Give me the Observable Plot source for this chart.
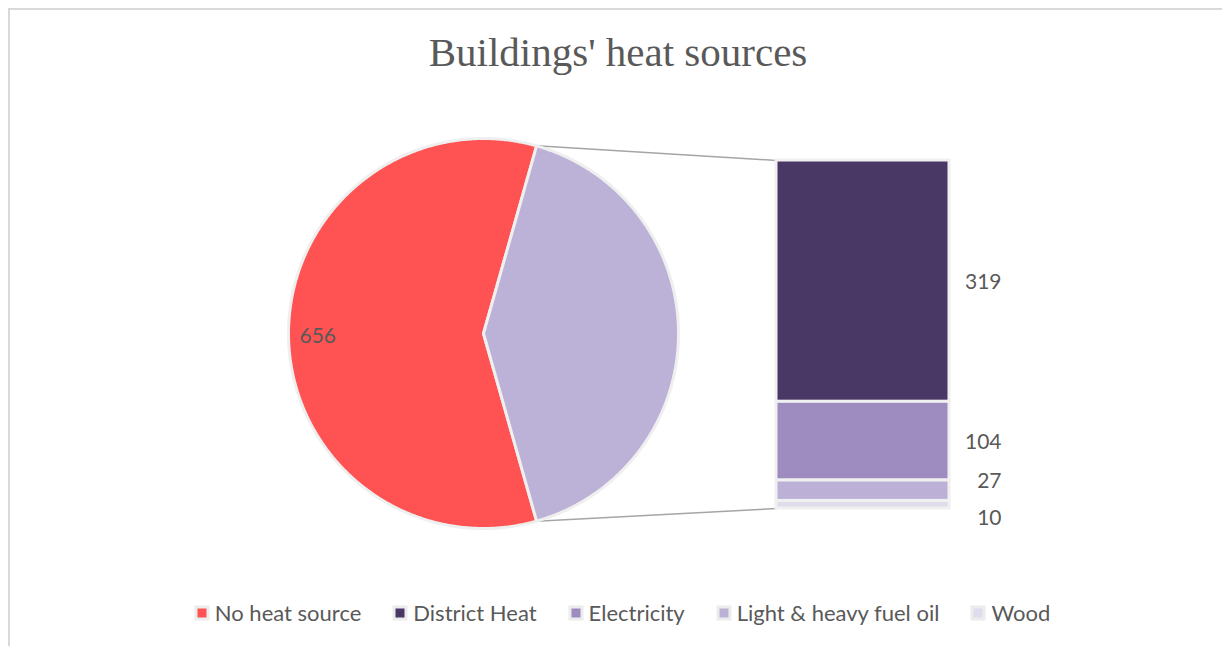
<!DOCTYPE html>
<html>
<head>
<meta charset="utf-8">
<script src="https://cdn.jsdelivr.net/npm/d3@7"></script>
<script src="https://cdn.jsdelivr.net/npm/@observablehq/plot@0.6"></script>
<style>
  body { margin: 0; background: #fff; font-family: Lato, sans-serif; }
  #frame { position: absolute; left: 8px; top: 8px; width: 1240px; height: 660px;
           border-top: 2px solid #D9D9D9; border-left: 2px solid #D9D9D9; }
  #title { position: absolute; left: 8px; width: 1220px; top: 32px; line-height: 41px;
           text-align: center; font-family: "Liberation Serif", serif; font-size: 41px; color: #595959; }
  #chart { position: absolute; left: 0; top: 90px; }
  #legend { position: absolute; left: 13px; width: 1220px; top: 596px; display: flex; justify-content: center; }
  #legend .lg-swatch { margin-right: 33px !important; }
  #legend .lg-swatch:last-child { margin-right: 0 !important; }
  #legend .lg-swatch svg { margin-right: 7px !important; }
  #legend .lg-swatch rect { stroke: #ECECEC; stroke-width: 3px; }
</style>
</head>
<body>
<div id="frame"></div>
<div id="title">Buildings' heat sources</div>
<div id="chart"></div>
<div id="legend"></div>
<script>
// Heat source of each building: first category is the pie's main slice,
// the rest are split out into the stacked bar on the right.
const categories = ["No heat source", "District Heat", "Electricity", "Light & heavy fuel oil", "Wood"];
const values = [656, 319, 104, 27, 10];
const colors = ["#FF5252", "#493865", "#9E8BC0", "#BCB0D7", "#E1DCEC"];
const otherColor = "#BCB1D6";

const mainSlice = {name: categories[0], value: values[0]};
const secondary = categories.slice(1).map((name, i) => ({name, value: values[i + 1]}));
const otherTotal = d3.sum(secondary, d => d.value);
const total = mainSlice.value + otherTotal;

// Layout (pixels inside the SVG)
const W = 1222, H = 470;
const barTopPx = 70, barBottomPx = 418, barLeftPx = 776, barRightPx = 949;
const pieCxPx = 483, pieCyPx = 243, pieRPx = 195;
const labelRightPx = 1001;

// One unit of value = k pixels on both axes, so the pie stays round
const k = (barBottomPx - barTopPx) / otherTotal;
const u = px => px / k;
const cx = u(pieCxPx), cy = u(barBottomPx - pieCyPx), R = u(pieRPx);

// Pie angles (clockwise from 12 o'clock); the split-out slice faces the bar
const otherSpan = otherTotal / total * 2 * Math.PI;
const a0 = Math.PI / 2 - otherSpan / 2;
const a1 = a0 + otherSpan;
const a2 = a0 + 2 * Math.PI;
const px = a => cx + R * Math.sin(a);
const py = a => cy + R * Math.cos(a);

function slicePolygon(name, from, to) {
  const n = Math.ceil((to - from) / (Math.PI / 360));
  const pts = [{name, x: cx, y: cy}];
  for (let i = 0; i <= n; ++i) {
    const a = from + (to - from) * i / n;
    pts.push({name, x: px(a), y: py(a)});
  }
  return pts;
}
const mainPoly = slicePolygon(mainSlice.name, a1, a2);
const otherPoly = slicePolygon("Other", a0, a1);

const connectors = [
  {x1: px(a0), y1: py(a0), x2: u(barLeftPx), y2: otherTotal},
  {x1: px(a1), y1: py(a1), x2: u(barLeftPx), y2: 0}
];

const mid = (a1 + a2) / 2;
const mainLabel = [{x: cx + 0.85 * R * Math.sin(mid), y: cy + 0.85 * R * Math.cos(mid), text: mainSlice.value}];

// Small segments get their labels nudged apart
const labelShift = {"Light & heavy fuel oil": -10, "Wood": 13};
const shifts = [0, ...new Set(Object.values(labelShift))];

const textStyle = {fill: "#595959", fontSize: 21};

const chart = Plot.plot({
  width: W,
  height: H,
  margin: 0,
  style: {fontFamily: "Lato, sans-serif", background: "transparent"},
  x: {domain: [0, u(W)], range: [0, W], axis: null},
  y: {domain: [0, otherTotal], range: [barBottomPx, barTopPx], axis: null},
  color: {domain: categories, range: colors},
  marks: [
    Plot.link(connectors, {x1: "x1", y1: "y1", x2: "x2", y2: "y2", stroke: "#A5A5A5", strokeWidth: 1.5}),
    Plot.line(mainPoly, {x: "x", y: "y", z: "name", fill: "name", curve: "linear-closed", stroke: "#EFEFEF", strokeWidth: 3}),
    Plot.line(otherPoly, {x: "x", y: "y", z: "name", fill: otherColor, curve: "linear-closed", stroke: "#EFEFEF", strokeWidth: 3}),
    Plot.rectY(secondary, {
      x1: u(barLeftPx), x2: u(barRightPx), y: "value", fill: "name", reverse: true,
      stroke: "#F0F0F0", strokeWidth: 3
    }),
    Plot.text(mainLabel, {x: "x", y: "y", text: "text", dy: 3, ...textStyle}),
    ...shifts.map(s => Plot.text(secondary, Plot.stackY({
      x: u(labelRightPx), y: "value", reverse: true,
      text: d => ((labelShift[d.name] ?? 0) === s ? String(d.value) : ""),
      textAnchor: "end", dy: s + 1, ...textStyle
    })))
  ]
});
document.getElementById("chart").appendChild(chart);

const legend = Plot.legend({
  color: {domain: categories, range: colors},
  legend: "swatches",
  swatchSize: 12,
  className: "lg",
  style: {fontFamily: "Lato, sans-serif", fontSize: "22px", color: "#595959"}
});
document.getElementById("legend").appendChild(legend);
</script>
</body>
</html>
